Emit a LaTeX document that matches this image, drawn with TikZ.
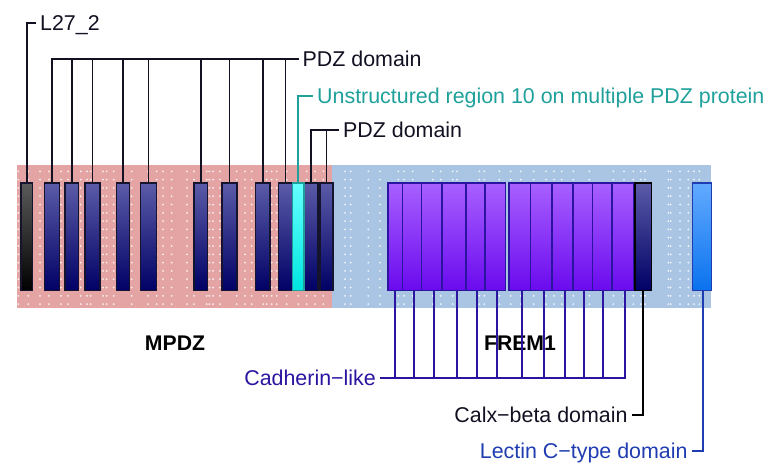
\documentclass[tikz,border=0pt]{standalone}
\usepackage{fontspec}
\setmainfont{Liberation Sans}
\definecolor{pinkbg}{HTML}{E4A4A4}
\definecolor{bluebg}{HTML}{A9C5E3}
\definecolor{pdztop}{HTML}{5B5BA8}
\definecolor{pdzbot}{HTML}{000066}
\definecolor{pdzborder}{HTML}{14142E}
\definecolor{ltop}{HTML}{5A5A5A}
\definecolor{lbot}{HTML}{000000}
\definecolor{cytop}{HTML}{66FFFF}
\definecolor{cybot}{HTML}{00E5E0}
\definecolor{cyborder}{HTML}{1FA09A}
\definecolor{putop}{HTML}{A860FF}
\definecolor{pubot}{HTML}{6A0AEE}
\definecolor{puborder}{HTML}{2B14A0}
\definecolor{letop}{HTML}{62AAFF}
\definecolor{lebot}{HTML}{0A72EE}
\definecolor{leborder}{HTML}{1F3CB0}
\definecolor{txtdark}{HTML}{111122}
\begin{document}
\begin{tikzpicture}[x=1pt,y=-1pt,
  dombox/.style={draw, line width=1.3pt, anchor=north west, inner sep=0pt,
    minimum height=107.7pt, shading angle=0},
  pdzbox/.style={dombox, draw=pdzborder, top color=pdztop, bottom color=pdzbot},
  lbox/.style={dombox, draw=pdzborder, top color=ltop, bottom color=lbot},
  cybox/.style={dombox, draw=cyborder, top color=cytop, bottom color=cybot},
  pubox/.style={dombox, draw=puborder, top color=putop, bottom color=pubot},
  lebox/.style={dombox, draw=leborder, top color=letop, bottom color=lebot},
  conn/.style={line width=1.7pt},
  lab/.style={inner ysep=0pt, inner xsep=4pt, text height=15pt, text depth=0pt,
    font=\fontsize{21.4}{25}\selectfont},
  title/.style={inner sep=0pt, font=\fontsize{21.2}{25}\selectfont\bfseries, text=black}
]
\useasboundingbox (0,0) rectangle (775,469);
% backgrounds
\fill[pinkbg] (17,165) rectangle (332,307.7);
\fill[bluebg] (332,165) rectangle (711,307.7);
% dots
\foreach \x in {18.3,28.3,40,49,61,68,80.7,87,90.7,103,106.7,113.7,131.7,148,156.7,163,171.7,187,194,206.7,209.3,213,220,236.7,245,251.7,263.3,266.7,271.7,276.7,286.7,298.3,306.7,315,323.3,345,350.7,368.3,380,398.3,404,412.7,432.7,440.7,452.7,457,479.3,484.3,499.3,510.7,520.7,533.7,546,554,561.7,573.3,589.3,613.3,624,633.3,640.7,645,668.3,670.7,680,688.3,694,699.3}
  \foreach \k in {0,...,16}
    \fill[white, opacity=0.85] (\x,171.3+8.3*\k) circle (1.0);
% titles
\node[title] (mpdz) at (175,343.5) {MPDZ};
\node[title] (frem) at (520,343.5) {FREM1};
% labels
\node[lab, anchor=west, text=txtdark] (l27) at (36,23.3) {L27\_2};
\node[lab, anchor=west, text=txtdark] (pdz) at (298.5,58.7) {PDZ domain};
\node[lab, anchor=west, text=cyborder] (uns) at (313,96) {Unstructured region 10 on multiple PDZ protein};
\node[lab, anchor=west, text=txtdark] (pdzb) at (339,130) {PDZ domain};
\node[lab, anchor=east, text=puborder] (cad) at (380,378.3) {Cadherin−like};
\node[lab, anchor=east, text=txtdark] (calx) at (631.7,415) {Calx−beta domain};
\node[lab, anchor=east, text=leborder] (lec) at (691.7,451) {Lectin C−type domain};
% MPDZ boxes
\node[lbox, minimum width=11.4pt] (m1) at (20.3,182.3) {};
\foreach \n/\a/\b in {m2/43.7/58.7, m3/64.3/78, m4/84.3/99.3, m5/116/129, m6/140/155.7,
  m7/193.3/206.7, m8/221.3/236.3, m9/254.7/269.3, m10/278/291.7, m12/303.3/317.3, m13/319.3/332.3}
  \node[pdzbox, minimum width={\b-\a}] (\n) at (\a,182.3) {};
\node[cybox, minimum width=11.6pt] (m11) at (291.7,182.3) {};
% FREM1 boxes
\foreach \n/\a/\b/\c in {f1/387.3/402/395, f2/402/421/413.7, f3/421/441/433.7, f4/441.7/465/457,
  f5/465.7/484.3/477, f6/484.3/504.7/497.3, f7/508.3/529.7/522, f8/529.7/551.3/544,
  f9/551.3/572.3/564.7, f10/572.3/591.7/584, f11/591.7/610.7/603.3, f12/612/632.7/625.3}{
  \node[pubox, minimum width={\b-\a}] (\n) at (\a,182.3) {};
  \coordinate (\n c) at (\c,290);
}
\node[pdzbox, draw=black, minimum width=16.7pt] (cb) at (634.3,182.3) {};
\coordinate (cbc) at (643.3,290);
\node[lebox, minimum width=19pt] (lb) at (691.7,182.3) {};
\coordinate (lbc) at (703,290);
% connectors
\draw[conn, txtdark] (m1.north) |- (l27.west);
\foreach \n in {m2,m3,m4,m5,m6,m7,m8,m9,m10}
  \draw[conn, txtdark] (\n.north) |- (pdz.west);
\draw[conn, cyborder] (m11.north) |- (uns.west);
\foreach \n in {m12,m13}
  \draw[conn, txtdark] (\n.north) |- (pdzb.west);
\foreach \n in {f1,f2,f3,f4,f5,f6,f7,f8,f9,f10,f11,f12}
  \draw[conn, puborder] (\n c) |- (cad.east);
\draw[conn, black] (cbc) |- (calx.east);
\draw[conn, leborder] (lbc) |- (lec.east);
\end{tikzpicture}
\end{document}
